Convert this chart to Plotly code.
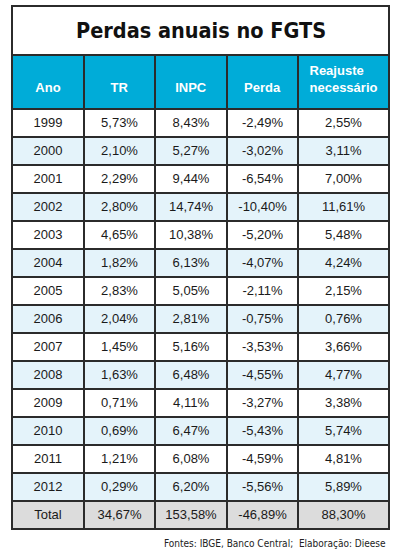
import plotly.graph_objects as go

W, H = 400, 553

title = "Perdas anuais no FGTS"
headers = ["Ano", "TR", "INPC", "Perda", "Reajuste<br>necessário"]
anos = ["1999", "2000", "2001", "2002", "2003", "2004", "2005", "2006",
        "2007", "2008", "2009", "2010", "2011", "2012", "Total"]
tr = ["5,73%", "2,10%", "2,29%", "2,80%", "4,65%", "1,82%", "2,83%", "2,04%",
      "1,45%", "1,63%", "0,71%", "0,69%", "1,21%", "0,29%", "34,67%"]
inpc = ["8,43%", "5,27%", "9,44%", "14,74%", "10,38%", "6,13%", "5,05%", "2,81%",
        "5,16%", "6,48%", "4,11%", "6,47%", "6,08%", "6,20%", "153,58%"]
perda = ["-2,49%", "-3,02%", "-6,54%", "-10,40%", "-5,20%", "-4,07%", "-2,11%", "-0,75%",
         "-3,53%", "-4,55%", "-3,27%", "-5,43%", "-4,59%", "-5,56%", "-46,89%"]
reajuste = ["2,55%", "3,11%", "7,00%", "11,61%", "5,48%", "4,24%", "2,15%", "0,76%",
            "3,66%", "4,77%", "3,38%", "5,74%", "4,81%", "5,89%", "88,30%"]
fonte = "Fontes: IBGE, Banco Central;  Elaboração: Dieese"

LINE = "#2b2b2b"
BLUE = "#00acd8"
ROW_A = "#ffffff"
ROW_B = "#e4f3fa"
TOTAL = "#dcdcdc"

x0, x1 = 12, 389
col_w = [72, 71, 72, 71, 91]

row_fill = [ROW_A if i % 2 == 0 else ROW_B for i in range(len(anos) - 1)] + [TOTAL]

hdr_text = ["&nbsp;<br>" + h if "<br>" not in h else h for h in headers]

fig = go.Figure(go.Table(
    domain=dict(x=[x0 / W, x1 / W], y=[0.0, 1 - 55 / H]),
    columnwidth=col_w,
    header=dict(
        values=["<b>%s</b>" % h for h in hdr_text],
        fill_color=BLUE,
        line=dict(color=LINE, width=2),
        align="center",
        font=dict(family="Liberation Sans, Arial, sans-serif", size=13, color="white"),
        height=54,
    ),
    cells=dict(
        values=[anos, tr, inpc, perda, reajuste],
        fill_color=[row_fill] * 5,
        line=dict(color=LINE, width=2),
        align="center",
        font=dict(family="Liberation Sans, Arial, sans-serif", size=13, color="#1a1a1a"),
        height=28,
    ),
))

fig.add_shape(type="rect", xref="paper", yref="paper",
              x0=x0 / W, x1=x1 / W, y0=1 - 55 / H, y1=1 - 6 / H,
              line=dict(color=LINE, width=2), fillcolor="white", layer="below")

fig.add_annotation(text="<b>%s</b>" % title, xref="paper", yref="paper",
                   x=(x0 + x1) / 2 / W, y=1 - 30 / H, showarrow=False,
                   xanchor="center", yanchor="middle",
                   font=dict(family="DejaVu Sans Condensed, Liberation Sans, sans-serif",
                             size=21.5, color="#111111"))

fig.add_annotation(text=fonte, xref="paper", yref="paper",
                   x=388 / W, y=1 - 543 / H, showarrow=False,
                   xanchor="right", yanchor="middle",
                   font=dict(family="DejaVu Sans Condensed, Liberation Sans, sans-serif",
                             size=10, color="#222222"))

fig.update_layout(width=W, height=H, margin=dict(l=0, r=0, t=0, b=0),
                  paper_bgcolor="white", plot_bgcolor="white")

fig.write_html("out.html", config={"displayModeBar": False},
               post_script="document.body.style.margin='0';document.body.style.overflow='hidden';")
